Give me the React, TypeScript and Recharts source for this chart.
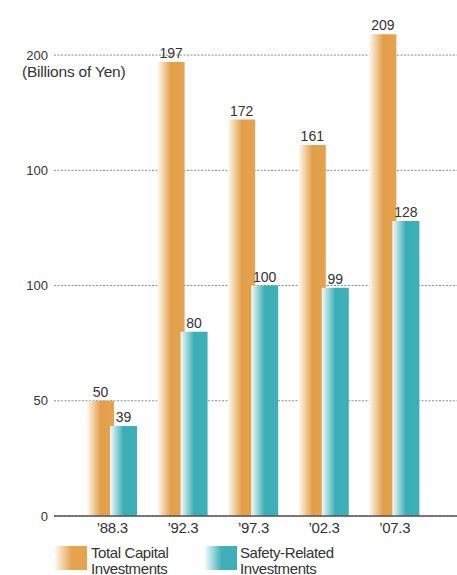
import { BarChart, Bar, XAxis, YAxis, CartesianGrid, LabelList } from "recharts";

const categories = ["\u201988.3", "\u201992.3", "\u201997.3", "\u201902.3", "\u201907.3"];
const totalCapital = [50, 197, 172, 161, 209];
const safetyRelated = [39, 80, 100, 99, 128];
const yTicks = [0, 50, 100, 150, 200];
// the printed axis repeats "100" on the fourth line
const yTickLabels = ["0", "50", "100", "100", "200"];
const Y_MAX = 220;

const data = categories.map((period, i) => ({
  period,
  total: totalCapital[i],
  safety: safetyRelated[i],
}));

const ORANGE = "#e5a34f";
const TEAL = "#3db0b8";
const FONT = "'Liberation Sans', Arial, Helvetica, sans-serif";

function Swatch({ left, color, light }: { left: number; color: string; light: string }) {
  return (
    <div
      style={{
        position: "absolute",
        left,
        top: 546,
        width: 32,
        height: 24,
        background: `linear-gradient(to right, ${light} 0%, ${color} 52%, ${color} 100%)`,
      }}
    />
  );
}

function LegendText({ left, lines }: { left: number; lines: string[] }) {
  return (
    <div
      style={{
        position: "absolute",
        left,
        top: 545,
        fontSize: 15,
        lineHeight: "15.5px",
        letterSpacing: -0.4,
        color: "#333",
      }}
    >
      {lines.map((l) => (
        <div key={l}>{l}</div>
      ))}
    </div>
  );
}

export default function App() {
  return (
    <div
      style={{
        position: "absolute",
        left: 0,
        top: 0,
        width: 457,
        height: 575,
        background: "#fff",
        fontFamily: FONT,
        overflow: "hidden",
      }}
    >
      <BarChart
        width={457}
        height={575}
        data={data}
        margin={{ top: 9, right: 0, left: 0, bottom: 29 }}
        barSize={27}
        barGap={-4}
      >
        <defs>
          <linearGradient id="gradOrange" x1="0" y1="0" x2="1" y2="0">
            <stop offset="0%" stopColor="#fef8ef" />
            <stop offset="50%" stopColor="#e29f4a" />
            <stop offset="100%" stopColor={ORANGE} />
          </linearGradient>
          <linearGradient id="gradTeal" x1="0" y1="0" x2="1" y2="0">
            <stop offset="0%" stopColor="#f3fafa" />
            <stop offset="50%" stopColor="#3aaeb6" />
            <stop offset="100%" stopColor={TEAL} />
          </linearGradient>
        </defs>
        <CartesianGrid
          vertical={false}
          stroke="#8a8a8a"
          strokeDasharray="2 1.5"
          horizontalCoordinatesGenerator={({ offset }: any) =>
            yTicks.map((t) => offset.top + offset.height * (1 - t / Y_MAX))
          }
        />
        <XAxis
          dataKey="period"
          padding={{ left: 23, right: 27 }}
          tickLine={false}
          tickMargin={0}
          axisLine={{ stroke: "#555", strokeWidth: 1.3 }}
          tick={{ fill: "#333", fontSize: 15, letterSpacing: -0.3 }}
          height={30}
        />
        <YAxis
          width={54}
          domain={[0, Y_MAX]}
          ticks={yTicks}
          tickFormatter={(_v: number, i: number) => yTickLabels[i]}
          axisLine={false}
          tickLine={false}
          tickMargin={0}
          tick={{ fill: "#333", fontSize: 13 }}
        />
        <Bar dataKey="total" fill="url(#gradOrange)" isAnimationActive={false}>
          <LabelList dataKey="total" position="top" offset={4} fill="#333" fontSize={14} />
        </Bar>
        <Bar dataKey="safety" fill="url(#gradTeal)" isAnimationActive={false}>
          <LabelList dataKey="safety" position="top" offset={4} fill="#333" fontSize={14} />
        </Bar>
      </BarChart>

      <div
        style={{
          position: "absolute",
          left: 22,
          top: 64,
          fontSize: 15.5,
          lineHeight: 1,
          letterSpacing: -0.2,
          color: "#333",
        }}
      >
        (Billions of Yen)
      </div>

      <Swatch left={55} color={ORANGE} light="#fef8ef" />
      <LegendText left={91} lines={["Total Capital", "Investments"]} />
      <Swatch left={205} color={TEAL} light="#f3fafa" />
      <LegendText left={240} lines={["Safety-Related", "Investments"]} />
    </div>
  );
}
